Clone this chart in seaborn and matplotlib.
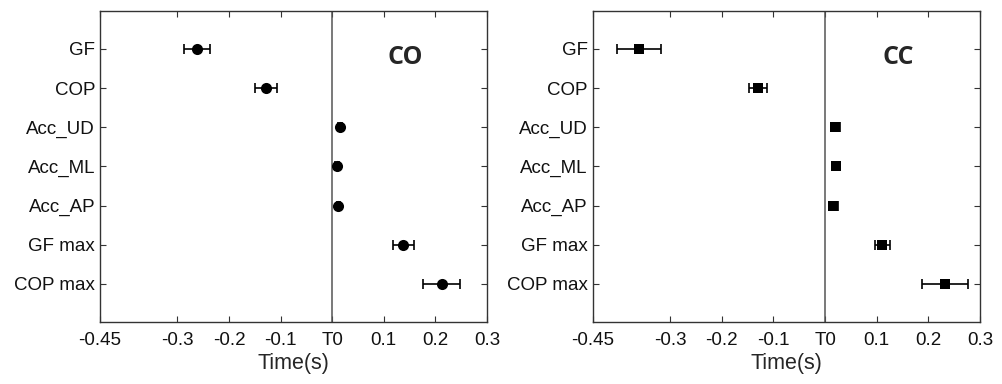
import numpy as np
import pandas as pd
import matplotlib
matplotlib.use("Agg")
import matplotlib.pyplot as plt
import seaborn as sns

events = ["GF", "COP", "Acc_UD", "Acc_ML", "Acc_AP", "GF max", "COP max"]

co_mean = [-0.262, -0.128, 0.0155, 0.010, 0.012, 0.138, 0.212]
co_err = [0.026, 0.021, 0.004, 0.004, 0.003, 0.020, 0.036]

cc_mean = [-0.360, -0.130, 0.020, 0.022, 0.016, 0.111, 0.232]
cc_err = [0.043, 0.017, 0.008, 0.005, 0.008, 0.015, 0.044]

xticks = [-0.45, -0.3, -0.2, -0.1, 0, 0.1, 0.2, 0.3]
xticklabels = ["-0.45", "-0.3", "-0.2", "-0.1", "T0", "0.1", "0.2", "0.3"]

sns.set_theme(style="white")
plt.rcParams["font.family"] = ["Liberation Sans", "DejaVu Sans"]

fig = plt.figure(figsize=(10.03, 3.84), dpi=100)
ax1 = fig.add_axes([0.0997, 0.1615, 0.3858, 0.81])
ax2 = fig.add_axes([0.5910, 0.1615, 0.3861, 0.81])

panels = [
    (ax1, co_mean, co_err, "o", 8, "CO"),
    (ax2, cc_mean, cc_err, "s", 7, "CC"),
]

for ax, mean, err, marker, msize, name in panels:
    df = pd.DataFrame({"event": events, "time": mean, "err": err})
    ax.axvline(0, color="#555555", lw=1.1, zorder=1)
    ax.errorbar(df["time"], df["event"], xerr=df["err"], fmt="none",
                ecolor="black", elinewidth=1.2, capsize=3.5, capthick=1.2, zorder=2)
    sns.scatterplot(data=df, x="time", y="event", marker=marker, s=msize ** 2,
                    color="black", edgecolor="black", linewidth=0, ax=ax, zorder=3)
    ax.set_xlim(-0.45, 0.3)
    ax.set_ylim(6.97, -0.97)
    ax.set_xticks(xticks)
    ax.set_xticklabels(xticklabels)
    ax.set_xlabel("Time(s)", fontsize=15.5, labelpad=3)
    ax.set_ylabel("")
    ax.tick_params(axis="both", direction="in", length=4, width=0.8, color="#333333",
                   labelsize=13.5, labelcolor="#111111", top=True, right=True,
                   bottom=True, left=True)
    ax.tick_params(axis="y", pad=3.5)
    ax.tick_params(axis="x", pad=7)
    for sp in ax.spines.values():
        sp.set_color("#333333")
        sp.set_linewidth(1.0)
    ax.text(0.141, 0.23, name, fontsize=18, fontweight="bold",
            family=["Open Sans", "DejaVu Sans"], ha="center", va="center")

fig.savefig("out.png", dpi=100)
